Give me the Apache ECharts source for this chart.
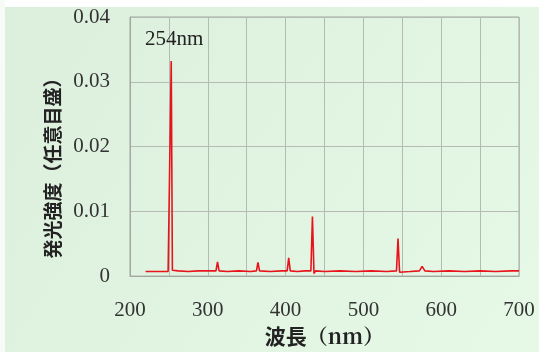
<!DOCTYPE html>
<html>
<head>
<meta charset="utf-8">
<style>
html,body{margin:0;padding:0;background:#ffffff;}
#chart{width:539px;height:352px;}
</style>
<script src="https://cdn.jsdelivr.net/npm/echarts@6/dist/echarts.min.js"></script>
</head>
<body>
<div id="chart"></div>
<script>
// Wavelength (nm) and relative emission intensity
var wavelengths = [220, 232, 244, 249, 250.5, 251.5, 253, 254.5, 256, 262, 275, 288, 294, 296.5, 299, 305, 310.5, 312.5, 314.5, 325, 340, 355, 362.5, 364.5, 366.5, 380, 395, 402, 404, 406, 415, 425, 432.5, 434.5, 436.5, 438.5, 450, 470, 490, 510, 530, 542.5, 544.5, 546.5, 548.5, 560, 572, 575.5, 579, 590, 610, 630, 650, 670, 690, 700];
var intensity   = [0.0007, 0.0007, 0.0007, 0.0007, 0.0005, 0.0010, 0.0332, 0.0009, 0.0006, 0.0008, 0.0007, 0.0008, 0.0008, 0.0010, 0.0008, 0.0008, 0.0008, 0.0022, 0.0008, 0.0007, 0.0008, 0.0007, 0.0008, 0.0021, 0.0008, 0.0007, 0.0008, 0.0008, 0.0028, 0.0008, 0.0007, 0.0008, 0.0008, 0.0092, 0.0004, 0.0008, 0.0007, 0.0008, 0.0007, 0.0008, 0.0007, 0.0008, 0.0058, 0.0006, 0.0008, 0.0007, 0.0008, 0.0015, 0.0008, 0.0007, 0.0008, 0.0007, 0.0008, 0.0007, 0.0008, 0.0008];
var yTicks = [0, 0.01, 0.02, 0.03, 0.04];
var xLabelValues = [200, 300, 400, 500, 600, 700];
var peakLabel = '254nm';
var xNameMain = '波長';
var xNameUnit = '（nm）';
var yName = '発光強度（任意目盛）';

var seriesData = wavelengths.map(function (w, i) { return [w, intensity[i]]; });

var chart = echarts.init(document.getElementById('chart'));
chart.setOption({
  backgroundColor: new echarts.graphic.LinearGradient(0, 0, 1, 1, [
    {offset: 0, color: '#dcefdc'},
    {offset: 1, color: '#e6f8e6'}
  ]),
  animation: false,
  grid: {left: 130, right: 20, top: 17, bottom: 71, show: true, borderColor: '#a0a8a0', borderWidth: 1, backgroundColor: 'transparent'},
  xAxis: {
    type: 'value', min: 200, max: 700, interval: 50,
    name: '{a|' + xNameMain + '}{b|' + xNameUnit + '}', nameLocation: 'middle', nameGap: 48,
    nameTextStyle: {
      color: '#222',
      rich: {
        a: {fontFamily: 'Noto Sans CJK JP', fontWeight: 'bold', fontSize: 21, color: '#222'},
        b: {fontFamily: 'Noto Serif CJK JP, Liberation Serif, serif', fontWeight: 'bold', fontSize: 21, color: '#222'}
      }
    },
    axisLine: {show: true, lineStyle: {color: '#a0a8a0'}},
    axisTick: {show: false},
    splitLine: {show: true, lineStyle: {color: '#b4bab4', width: 1}},
    axisLabel: {
      margin: 24, fontFamily: 'Liberation Serif', fontSize: 21, color: '#333',
      formatter: function (v) { return xLabelValues.indexOf(v) >= 0 ? String(v) : ''; }
    }
  },
  yAxis: {
    type: 'value', min: 0, max: 0.04, interval: 0.01,
    name: yName, nameLocation: 'middle', nameGap: 67,
    nameTextStyle: {fontFamily: 'Noto Sans CJK JP', fontWeight: 'bold', fontSize: 19, color: '#222', padding: [0, 34, 0, 0]},
    axisLine: {show: true, lineStyle: {color: '#a0a8a0'}},
    axisTick: {show: false},
    splitLine: {show: true, lineStyle: {color: '#b4bab4', width: 1}},
    axisLabel: {
      margin: 20, fontFamily: 'Liberation Serif', fontSize: 21, color: '#333',
      formatter: function (v) { return yTicks.indexOf(+v.toFixed(2)) >= 0 ? String(+v.toFixed(2)) : ''; }
    }
  },
  series: [{
    type: 'line',
    data: seriesData,
    showSymbol: false,
    symbol: 'none',
    lineStyle: {color: '#e8141c', width: 1.6},
    z: 3
  }],
  graphic: [
    {type: 'rect', left: 0, top: 0, shape: {width: 539, height: 7}, style: {fill: '#ffffff'}, z: 10},
    {type: 'rect', left: 0, top: 0, shape: {width: 5, height: 352}, style: {fill: '#f6fbf6'}, z: 10},
    {type: 'text', left: 145, top: 29, style: {text: peakLabel, font: '21px "Liberation Serif"', fill: '#222'}, z: 10}
  ]
});
</script>
</body>
</html>
